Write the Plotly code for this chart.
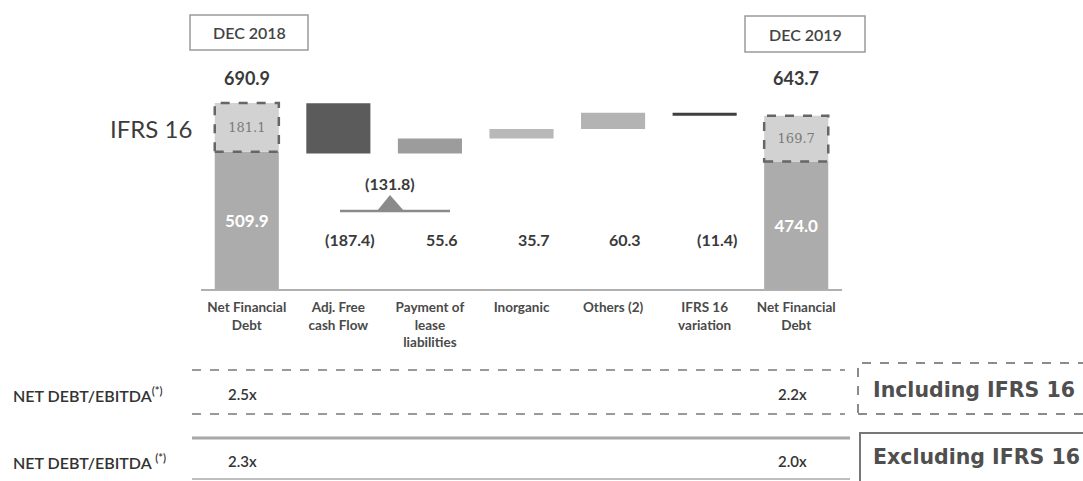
import plotly.graph_objects as go

# ---- data -------------------------------------------------------------
categories = [
    "Net Financial<br>Debt",
    "Adj. Free<br>cash Flow",
    "Payment of<br>lease<br>liabilities",
    "Inorganic",
    "Others (2)",
    "IFRS 16<br>variation",
    "Net Financial<br>Debt",
]
net_debt_total = [690.9, 643.7]        # net financial debt incl. IFRS 16 (Dec 2018, Dec 2019)
debt_ex_ifrs = [509.9, 474.0]          # net financial debt without IFRS 16
debt_ifrs16 = [181.1, 169.7]           # IFRS 16 lease component
movements = [-187.4, 55.6, 35.7, 60.3, -11.4]
movement_colors = ["#5b5b5b", "#9c9c9c", "#b8b8b8", "#b3b3b3", "#3f3f3f"]
period_labels = ["DEC 2018", "DEC 2019"]
sub_value = -131.8
ratio_incl = ["2.5x", "2.2x"]
ratio_excl = ["2.3x", "2.0x"]
row_labels = ["NET DEBT/EBITDA<sup>(*)</sup>", "NET DEBT/EBITDA <sup>(*)</sup>"]
legend_labels = ["Including IFRS 16", "Excluding IFRS 16"]

W, H = 1083, 481


def PX(x):
    return x / W


def PY(y):
    return 1 - y / H


def fmt(v):
    return f"({abs(v):.1f})" if v < 0 else f"{v:.1f}"


FONT = "Lato"
BAR_W = 0.7
ends = [0, len(categories) - 1]

# running cumulative values for the floating bars
start = net_debt_total[0]
bases, heights = [], []
for m in movements:
    end = start + m
    bases.append(min(start, end))
    heights.append(abs(m))
    start = end

fig = go.Figure()

fig.add_trace(go.Bar(
    x=ends, y=debt_ex_ifrs, width=BAR_W,
    marker=dict(color="#acacac", line=dict(width=0)),
    text=[f"{v:.1f}" for v in debt_ex_ifrs], textposition="inside",
    insidetextanchor="middle",
    textfont=dict(family=FONT, size=17, color="white", weight=700),
    hoverinfo="skip",
))
fig.add_trace(go.Bar(
    x=ends, y=debt_ifrs16, base=debt_ex_ifrs, width=BAR_W,
    marker=dict(color="#d2d2d2", line=dict(width=0)),
    text=[f"{v:.1f}" for v in debt_ifrs16], textposition="inside",
    insidetextanchor="middle",
    textfont=dict(family="DejaVu Serif", size=13, color="#7a7a7a"),
    hoverinfo="skip",
))
fig.add_trace(go.Bar(
    x=list(range(1, 1 + len(movements))), y=heights, base=bases, width=BAR_W,
    marker=dict(color=movement_colors, line=dict(width=0)),
    hoverinfo="skip",
))

shapes = []
annotations = []


def note(x, y, text, size, color="#3a3a3a", weight=None, family=FONT,
         xref="paper", xanchor="center", xshift=0):
    f = dict(family=family, size=size, color=color)
    if weight:
        f["weight"] = weight
    annotations.append(dict(xref=xref, yref="paper", x=x, y=y, text=text,
                            showarrow=False, xanchor=xanchor, yanchor="middle",
                            xshift=xshift, font=f))


# dashed outline around the IFRS 16 part of each total bar
for i, lo, up in zip(ends, debt_ex_ifrs, debt_ifrs16):
    shapes.append(dict(type="rect", xref="x", yref="y",
                       x0=i - BAR_W / 2, x1=i + BAR_W / 2, y0=lo, y1=lo + up,
                       line=dict(color="#666666", width=2.5, dash="dash")))

# totals above the end bars
for i, t in zip(ends, net_debt_total):
    note(i, PY(78), f"{t:.1f}", 18, weight=700, xref="x")

# movement values on one row
for k, m in enumerate(movements):
    note(k + 1, PY(239), fmt(m), 16, weight=700, xref="x", xshift=12)

# period boxes
for lab, (x0, x1, y0, y1) in zip(period_labels, [(190, 308, 15, 50), (745, 865, 16, 52)]):
    shapes.append(dict(type="rect", xref="paper", yref="paper",
                       x0=PX(x0), x1=PX(x1), y0=PY(y1), y1=PY(y0),
                       line=dict(color="#9a9a9a", width=1.5), fillcolor="white"))
    note(PX((x0 + x1) / 2), PY((y0 + y1) / 2), lab, 16, color="#444444", weight=600)

# side label
note(PX(151), PY(129), "IFRS 16", 24, color="#3c3c3c")

# free cash flow sub-value marker
shapes.append(dict(type="line", xref="paper", yref="paper",
                   x0=PX(340), x1=PX(450), y0=PY(211), y1=PY(211),
                   line=dict(color="#8a8a8a", width=2.5)))
shapes.append(dict(type="path", xref="paper", yref="paper",
                   path=f"M {PX(377)},{PY(211)} L {PX(390)},{PY(195)} L {PX(404)},{PY(211)} Z",
                   fillcolor="#8a8a8a", line=dict(width=0)))
note(PX(390), PY(183), fmt(sub_value), 16, weight=700)

# leverage table
for y in (370, 414):
    shapes.append(dict(type="line", xref="paper", yref="paper",
                       x0=PX(192), x1=PX(845), y0=PY(y), y1=PY(y),
                       line=dict(color="#7a7a7a", width=1.5, dash="dash")))
shapes.append(dict(type="line", xref="paper", yref="paper",
                   x0=PX(192), x1=PX(850), y0=PY(438), y1=PY(438),
                   line=dict(color="#a8a8a8", width=3)))
shapes.append(dict(type="line", xref="paper", yref="paper",
                   x0=PX(192), x1=PX(850), y0=PY(479), y1=PY(479),
                   line=dict(color="#a8a8a8", width=1.5)))

for lab, vals, y in zip(row_labels, [ratio_incl, ratio_excl], [394, 461]):
    note(PX(11), PY(y), lab, 16, color="#333333", weight=600, xanchor="left")
    for i, v in zip(ends, vals):
        note(i, PY(y), v, 15, color="#333333", weight=600, xref="x", xshift=-4)

# right-hand legend boxes
shapes.append(dict(type="rect", xref="paper", yref="paper",
                   x0=PX(858), x1=PX(1100), y0=PY(414), y1=PY(363),
                   line=dict(color="#666666", width=1.5, dash="dash")))
shapes.append(dict(type="rect", xref="paper", yref="paper",
                   x0=PX(860), x1=PX(1100), y0=PY(495), y1=PY(433),
                   line=dict(color="#777777", width=2)))
for lab, y in zip(legend_labels, [390, 457]):
    note(PX(871), PY(y), lab, 20.5, color="#4f4f4f", weight=700,
         family="DejaVu Sans", xanchor="left")

k = 0.269  # pixels per unit of debt
y_top = 800
fig.update_layout(
    width=W, height=H,
    margin=dict(l=0, r=0, t=0, b=0),
    paper_bgcolor="white", plot_bgcolor="white",
    barmode="overlay", showlegend=False,
    shapes=shapes, annotations=annotations,
    xaxis=dict(domain=[PX(201), PX(842)], range=[-0.5, 6.5],
               tickmode="array", tickvals=list(range(len(categories))), ticktext=categories,
               tickfont=dict(family=FONT, size=13.5, color="#4a4a4a", weight=700),
               ticklabelstandoff=5,
               showline=True, linecolor="#b0b0b0", linewidth=1.5,
               showgrid=False, zeroline=False, ticks="", fixedrange=True),
    yaxis=dict(domain=[PY(289), PY(289 - y_top * k)], range=[0, y_top],
               visible=False, showgrid=False, zeroline=False, fixedrange=True),
)

fig.write_html("out.html")
